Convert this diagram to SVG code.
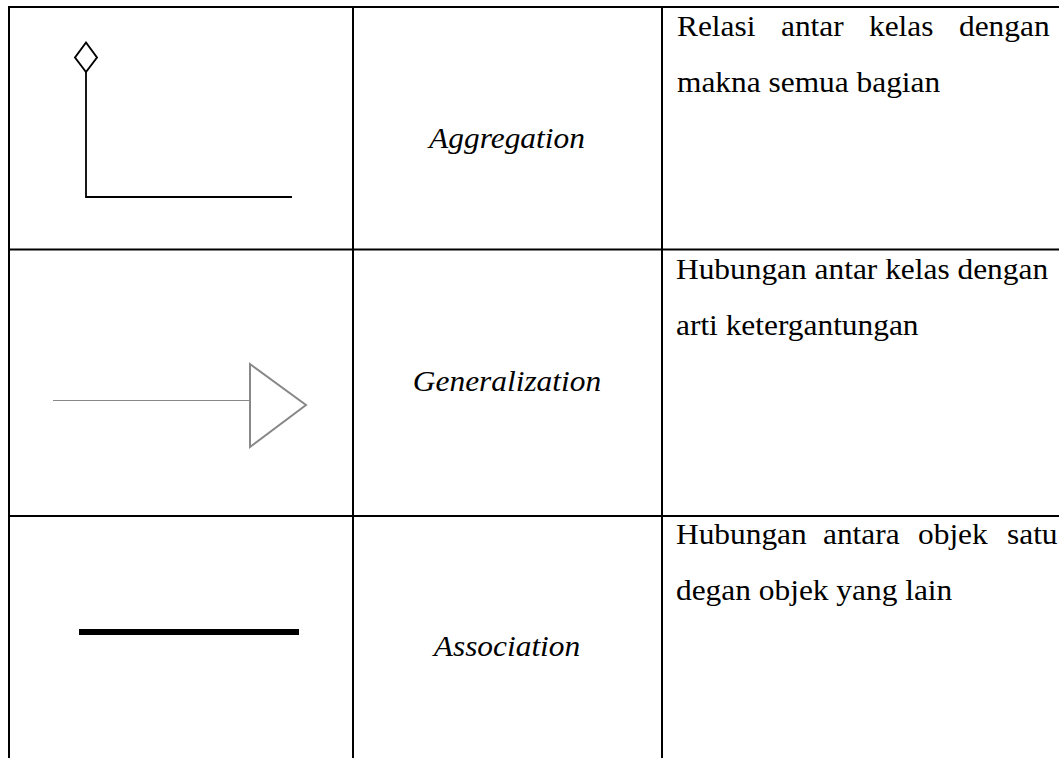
<svg xmlns="http://www.w3.org/2000/svg" width="1059" height="758" viewBox="0 0 1059 758">
  <style>
    .grid { stroke: #000; stroke-width: 2; fill: none; }
    .txt { font-family: "Liberation Serif", "Times New Roman", serif; font-size: 31.4px; fill: #000; }
    .lbl { font-style: italic; text-anchor: middle; }
  </style>
  <rect width="1059" height="758" fill="#fff"/>

  <!-- table rules -->
  <g id="table">
    <line class="grid" x1="9" y1="7" x2="1059" y2="7"/>
    <line class="grid" x1="9" y1="249.5" x2="1059" y2="249.5"/>
    <line class="grid" x1="9" y1="516" x2="1059" y2="516"/>
    <line class="grid" x1="9" y1="6" x2="9" y2="758"/>
    <line class="grid" x1="353" y1="6" x2="353" y2="758"/>
    <line class="grid" x1="662" y1="6" x2="662" y2="758"/>
  </g>

  <!-- notation symbols -->
  <g id="connectors">
    <g id="aggregation-symbol">
      <polygon points="86,42.5 97,57.5 86,72 75,57.5" fill="#fff" stroke="#000" stroke-width="1.9"/>
      <polyline points="86,72 86,197 292,197" fill="none" stroke="#000" stroke-width="1.8"/>
    </g>
    <g id="generalization-symbol">
      <line x1="53" y1="400.5" x2="250" y2="400.5" stroke="#888" stroke-width="1"/>
      <polygon points="250,364 306,405 250,447" fill="#fff" stroke="#888" stroke-width="2"/>
    </g>
    <g id="association-symbol">
      <rect x="79" y="629" width="220" height="6" fill="#000"/>
    </g>
  </g>

  <!-- row 1 -->
  <g id="row-aggregation">
    <text class="txt lbl" transform="translate(0,148) scale(1,0.95)" x="507" y="0">Aggregation</text>
    <text class="txt" transform="translate(0,36) scale(1,0.95)" y="0"><tspan x="677">Relasi</tspan><tspan x="781">antar</tspan><tspan x="869">kelas</tspan><tspan x="959">dengan</tspan></text>
    <text class="txt" transform="translate(0,92) scale(1,0.95)" x="677" y="0">makna semua bagian</text>
  </g>

  <!-- row 2 -->
  <g id="row-generalization">
    <text class="txt lbl" transform="translate(0,391) scale(1,0.95)" x="507" y="0">Generalization</text>
    <text class="txt" transform="translate(0,279) scale(1,0.95)" x="676" y="0">Hubungan antar kelas dengan</text>
    <text class="txt" transform="translate(0,335) scale(1,0.95)" x="676" y="0">arti ketergantungan</text>
  </g>

  <!-- row 3 -->
  <g id="row-association">
    <text class="txt lbl" transform="translate(0,656) scale(1,0.95)" x="507" y="0">Association</text>
    <text class="txt" transform="translate(0,544) scale(1,0.95)" y="0"><tspan x="676">Hubungan</tspan><tspan x="823">antara</tspan><tspan x="918">objek</tspan><tspan x="1007">satu</tspan></text>
    <text class="txt" transform="translate(0,600) scale(1,0.95)" x="676" y="0">degan objek yang lain</text>
  </g>
</svg>
